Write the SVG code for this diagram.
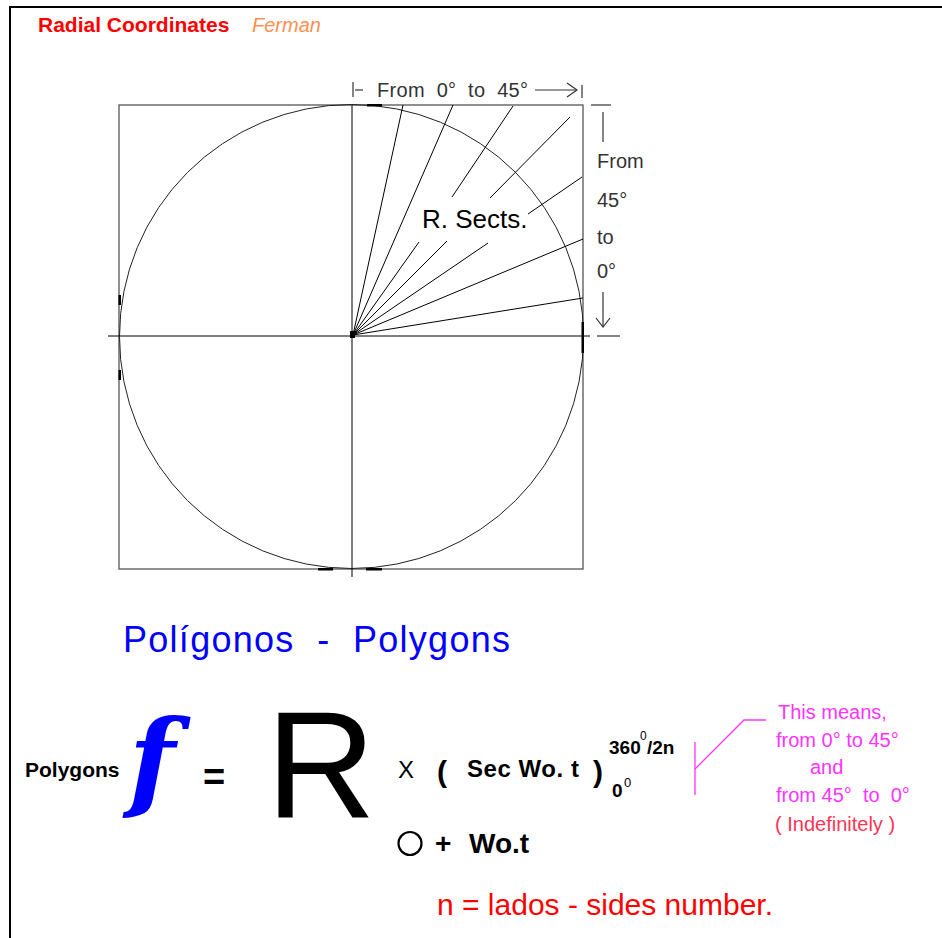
<svg xmlns="http://www.w3.org/2000/svg" width="942" height="938" viewBox="0 0 942 938" xml:space="preserve">
<style>
.ln{stroke:#000;stroke-width:1;fill:none}
.sq{stroke:#555;stroke-width:1.3;fill:none}
.gt{font-family:"Liberation Sans",Arial,sans-serif;font-size:20px;fill:#333}
.pk{font-family:"Liberation Sans",Arial,sans-serif;font-size:20px;fill:#ff33ff}
.pl{stroke:#ff33ff;stroke-width:1.3;fill:none}
.bk{font-family:"Liberation Sans",Arial,sans-serif;fill:#000}
.fx{font-family:"DejaVu Serif",serif;font-style:italic;font-weight:bold;font-size:108px;fill:#0000ff}
.mk{fill:#000}
text{white-space:pre}
</style>
<rect width="942" height="938" fill="#fff"/>
<g id="frame">
<line x1="10" y1="7" x2="942" y2="7" stroke="#000" stroke-width="2"/>
<line x1="10" y1="6" x2="10" y2="938" stroke="#000" stroke-width="2"/>
</g>
<g id="title">
<text x="38" y="32" font-family="Liberation Sans, Arial, sans-serif" font-size="21" font-weight="bold" fill="#ff0000">Radial Coordinates</text>
<text x="252" y="32" font-family="Liberation Sans, Arial, sans-serif" font-size="20" font-style="italic" fill="#ff9050">Ferman</text>
</g>
<g id="square">
<rect x="119" y="105" width="464" height="464" class="sq"/>
<circle cx="351.5" cy="336.5" r="232" stroke="#222" stroke-width="1" fill="none"/>
<line x1="108" y1="336" x2="590" y2="336" class="ln"/>
<line x1="352" y1="105" x2="352" y2="577" class="ln"/>
<rect x="367" y="104" width="15" height="2.5" class="mk"/>
<rect x="318" y="568" width="15" height="2.5" class="mk"/>
<rect x="366" y="568" width="16" height="2.5" class="mk"/>
<rect x="118.5" y="295" width="2.5" height="10" class="mk"/>
<rect x="118.5" y="370" width="2.5" height="10" class="mk"/>
<rect x="581.5" y="322" width="2.5" height="31" class="mk"/>
<rect x="350" y="331" width="5" height="7" class="mk"/>
</g>
<g id="sectors">
<line x1="353" y1="335" x2="403" y2="105" class="ln"/>
<line x1="353" y1="335" x2="453" y2="105" class="ln"/>
<line x1="353" y1="335" x2="419" y2="242" class="ln"/>
<line x1="353" y1="335" x2="447" y2="241" class="ln"/>
<line x1="353" y1="335" x2="488" y2="243" class="ln"/>
<line x1="353" y1="335" x2="583" y2="239" class="ln"/>
<line x1="353" y1="335" x2="583" y2="298" class="ln"/>
<line x1="513" y1="106" x2="452" y2="197" class="ln"/>
<line x1="570" y1="117" x2="490" y2="198" class="ln"/>
<line x1="582" y1="177" x2="528" y2="214" class="ln"/>
<text x="422" y="228" class="bk" font-size="26" fill="#111">R. Sects.</text>
</g>
<g id="top-range">
<line x1="353" y1="82" x2="353" y2="97" stroke="#333" stroke-width="1.2"/>
<line x1="355" y1="90" x2="363" y2="90" stroke="#333" stroke-width="1.2"/>
<text x="377" y="97" class="gt" textLength="151" lengthAdjust="spacing">From  0°  to  45°</text>
<line x1="535" y1="90" x2="577" y2="90" stroke="#333" stroke-width="1.2"/>
<polyline points="567,83 577,90 567,97" stroke="#333" stroke-width="1.2" fill="none"/>
<line x1="582" y1="85" x2="582" y2="98" stroke="#333" stroke-width="1.2"/>
</g>
<g id="right-range">
<line x1="591" y1="105" x2="611" y2="105" stroke="#333" stroke-width="1.2"/>
<line x1="603" y1="112" x2="603" y2="142" stroke="#333" stroke-width="1.2"/>
<text x="597" y="168" class="gt">From</text>
<text x="597" y="207" class="gt">45°</text>
<text x="597" y="244" class="gt">to</text>
<text x="597" y="278" class="gt">0°</text>
<line x1="603" y1="292" x2="603" y2="327" stroke="#333" stroke-width="1.2"/>
<polyline points="596,318 603,327 610,318" stroke="#333" stroke-width="1.2" fill="none"/>
<line x1="597" y1="336" x2="620" y2="336" stroke="#333" stroke-width="1.2"/>
</g>
<g id="heading">
<text x="123" y="652" font-family="Liberation Sans, Arial, sans-serif" font-size="36" fill="#0000ff" textLength="387" lengthAdjust="spacing">Polígonos  -  Polygons</text>
</g>
<g id="formula">
<text x="25" y="777" class="bk" font-size="21" font-weight="bold">Polygons</text>
<text x="152" y="798" text-anchor="middle" class="fx">f</text>
<text x="203" y="790" class="bk" font-size="38" font-weight="bold">=</text>
<text x="266" y="818" class="bk" font-size="152">R</text>
<text x="398" y="778" class="bk" font-size="24" fill="#333">X</text>
<text x="437" y="782" class="bk" font-size="30" font-weight="bold">(</text>
<text x="467" y="777" class="bk" font-size="24" font-weight="bold" textLength="112" lengthAdjust="spacing">Sec Wo. t</text>
<text x="593" y="782" class="bk" font-size="30" font-weight="bold">)</text>
<text x="609" y="754" class="bk" font-size="19" font-weight="bold">360</text>
<text x="640" y="740" class="bk" font-size="12">0</text>
<text x="647" y="754" class="bk" font-size="19" font-weight="bold">/2n</text>
<text x="612" y="797" class="bk" font-size="19" font-weight="bold">0</text>
<text x="624" y="787" class="bk" font-size="13">0</text>
<circle cx="410" cy="843.5" r="11.5" stroke="#000" stroke-width="2.2" fill="none"/>
<text x="435" y="853" class="bk" font-size="28" font-weight="bold">+</text>
<text x="469" y="853" class="bk" font-size="28" font-weight="bold">Wo.t</text>
</g>
<g id="note">
<polyline points="695,742 695,795" class="pl"/>
<polyline points="695,769 744,720 766,720" class="pl"/>
<text x="778" y="719" class="pk">This means,</text>
<text x="776" y="747" class="pk">from 0° to 45°</text>
<text x="810" y="774" class="pk">and</text>
<text x="776" y="802" class="pk">from 45°  to  0°</text>
<text x="775" y="831" class="pk" style="fill:#ff3355">( Indefinitely )</text>
</g>
<g id="legend">
<text x="437" y="915" font-family="Liberation Sans, Arial, sans-serif" font-size="30" fill="#ff0000">n = lados - sides number.</text>
</g>
</svg>
